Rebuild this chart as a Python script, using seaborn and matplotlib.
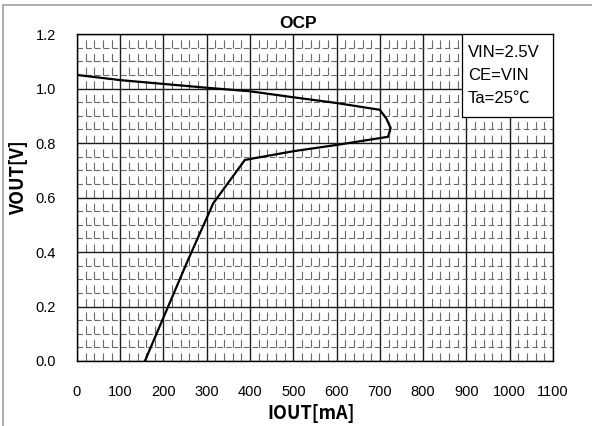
import numpy as np
import pandas as pd
import matplotlib
matplotlib.use("Agg")
import matplotlib.pyplot as plt
from matplotlib.ticker import MultipleLocator
from matplotlib.patches import Rectangle
import seaborn as sns

# OCP curve (fold-back)
iout_ma = [0, 100, 200, 300, 400, 500, 600, 700, 715, 725, 719, 600, 500, 388, 315, 257, 157]
vout_v = [1.05, 1.031, 1.017, 1.003, 0.99, 0.968, 0.947, 0.922, 0.89, 0.855, 0.823, 0.793, 0.77, 0.738, 0.579, 0.372, 0.0]

x_ticks = [0, 100, 200, 300, 400, 500, 600, 700, 800, 900, 1000, 1100]
y_ticks = [0.0, 0.2, 0.4, 0.6, 0.8, 1.0, 1.2]
conditions = ["VIN=2.5V", "CE=VIN", "Ta=25\u2103"]

df = pd.DataFrame({"IOUT": iout_ma, "VOUT": vout_v})

sns.set_style("white", {"text.color": "black", "axes.labelcolor": "black",
                        "xtick.color": "black", "ytick.color": "black"})
plt.rcParams['font.family'] = ['Liberation Sans', 'DejaVu Sans']
plt.rcParams['lines.scale_dashes'] = False
jp_bold = ['Noto Sans CJK JP', 'DejaVu Sans']

fig = plt.figure(figsize=(5.92, 4.26), dpi=100)
ax = fig.add_axes([0.130, 0.1526, 0.804, 0.7674])

sns.lineplot(data=df, x="IOUT", y="VOUT", sort=False, estimator=None,
             color="black", linewidth=1.6, ax=ax, zorder=5)

ax.set_xlim(0, 1100)
ax.set_ylim(0, 1.2)
ax.set_xticks(x_ticks)
ax.set_yticks(y_ticks)
ax.set_xticklabels([str(t) for t in x_ticks])
ax.set_yticklabels([f"{t:.1f}" for t in y_ticks])
ax.xaxis.set_minor_locator(MultipleLocator(20))
ax.yaxis.set_minor_locator(MultipleLocator(0.05))
ax.grid(which="major", color="#1a1a1a", linewidth=1.0, linestyle="-")
ax.xaxis.grid(which="minor", color="#6a6a6a", linewidth=0.8, linestyle=(0, (5.8, 4.0)))
ax.yaxis.grid(which="minor", color="#6a6a6a", linewidth=0.8, linestyle=(0, (4.0, 2.3)))
ax.set_axisbelow(True)
ax.tick_params(which="both", length=0, labelcolor="black")
ax.tick_params(axis="x", pad=17, labelsize=10.5)
ax.tick_params(axis="y", pad=15, labelsize=10.5)
for s in ax.spines.values():
    s.set_color("black")
    s.set_linewidth(1.0)

ax.set_xlabel("IOUT[mA]", fontsize=13, fontweight="bold", family=jp_bold, color="black")
ax.xaxis.label.set_va("center")
ax.xaxis.set_label_coords(0.4926, -0.16)
ax.set_ylabel("VOUT[V]", fontsize=13, fontweight="bold", family=jp_bold, color="black")
ax.yaxis.set_label_coords(-0.102, 0.56)
ax.set_title("OCP", fontsize=12.5, fontweight="bold", x=0.464, pad=4.3, color="black")

# condition box in the top-right corner
ax.add_patch(Rectangle((891, 0.897), 209, 0.303, facecolor="white",
                       edgecolor="black", linewidth=0.9, zorder=6))
for i, line in enumerate(conditions):
    ax.text(904, 1.117 - i * 0.0845, line, fontsize=12, va="baseline", ha="left",
            color="black", zorder=7, family=['Liberation Sans', 'Noto Sans CJK JP'])

# outer frame of the original picture
fig.patches.append(Rectangle((3 / 592, -0.1), 1.2, 1.1 - 5 / 426,
                             transform=fig.transFigure, fill=False,
                             edgecolor="#a0a0a0", linewidth=1.2))

fig.savefig("out.png", dpi=100)
